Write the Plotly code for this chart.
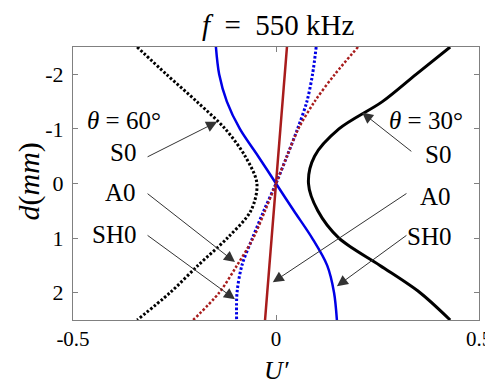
import plotly.graph_objects as go

# thickness coordinate d (mm), shared by all curves
d = [-2.5, -2, -1.5, -1, -0.5, 0, 0.5, 1, 1.5, 2, 2.5]

# U', theta = 30 deg
s0_30 = [0.429, 0.345, 0.262, 0.155, 0.095, 0.08, 0.103, 0.155, 0.256, 0.355, 0.429]
a0_30 = [0.027, 0.0216, 0.0162, 0.0108, 0.0054, 0.0, -0.0054, -0.0108, -0.0162, -0.0216, -0.027]
sh0_30 = [-0.148, -0.14, -0.121, -0.089, -0.044, 0.0, 0.044, 0.089, 0.126, 0.143, 0.15]

# U', theta = 60 deg
s0_60 = [-0.342, -0.27, -0.195, -0.125, -0.076, -0.047, -0.062, -0.12, -0.192, -0.261, -0.342]
a0_60 = [0.202, 0.145, 0.095, 0.055, 0.027, 0.0, -0.027, -0.056, -0.096, -0.14, -0.204]
sh0_60 = [0.099, 0.09, 0.076, 0.053, 0.027, 0.0, -0.03, -0.058, -0.084, -0.096, -0.097]

x_ticks = [-0.5, 0, 0.5]
x_ticktext = ['-0.5', '0', '0.5']
y_ticks = [-2, -1, 0, 1, 2]
y_ticktext = ['-2', '-1', '0', '1', '2']

BLUE = '#0000e6'
RED = '#a81c1c'
DOT = '2.5px,2px'
FONT = 'Liberation Serif'

fig = go.Figure()

curves = [
    (s0_30, 'black', 3, 'solid'),
    (sh0_30, BLUE, 2.5, 'solid'),
    (a0_30, RED, 2.5, 'solid'),
    (s0_60, 'black', 3, DOT),
    (sh0_60, BLUE, 3, DOT),
    (a0_60, RED, 2.5, DOT),
]
for u, col, w, dash in curves:
    fig.add_trace(go.Scatter(x=u, y=d, mode='lines',
                             line=dict(color=col, width=w, dash=dash, shape='spline', smoothing=0.9),
                             showlegend=False))

# arrows (head on curve, tail next to the label)
arrows = [
    (-0.145, -1.13, -0.32, -0.475),
    (-0.101, 1.44, -0.32, 0.165),
    (-0.101, 2.12, -0.32, 0.93),
    (0.212, -1.30, 0.337, -0.567),
    (-0.008, 1.81, 0.325, 0.165),
    (0.150, 1.88, 0.325, 0.93),
]
for hx, hy, tx, ty in arrows:
    fig.add_annotation(x=hx, y=hy, ax=tx, ay=ty, xref='x', yref='y', axref='x', ayref='y',
                       text='', showarrow=True, arrowhead=2, arrowsize=2.2, arrowwidth=1,
                       arrowcolor='#333333')

labels = [
    ('<i>θ</i> = 60°', -0.374, -1.16, 'center'),
    ('S0', -0.34, -0.57, 'right'),
    ('A0', -0.34, 0.165, 'right'),
    ('SH0', -0.34, 0.93, 'right'),
    ('<i>θ</i> = 30°', 0.369, -1.16, 'center'),
    ('S0', 0.436, -0.53, 'right'),
    ('A0', 0.436, 0.24, 'right'),
    ('SH0', 0.436, 0.97, 'right'),
]
for txt, x, y, anchor in labels:
    fig.add_annotation(x=x, y=y, xref='x', yref='y', text=txt, showarrow=False,
                       xanchor=anchor, yanchor='middle',
                       font=dict(family=FONT, size=25, color='black'))

# axis titles
fig.add_annotation(x=0.5, y=0, xref='paper', yref='paper', yshift=-50, text='<i>U′</i>',
                   showarrow=False, xanchor='center', yanchor='middle',
                   font=dict(family=FONT, size=26))
fig.add_annotation(x=0, y=0.5, xref='paper', yref='paper', xshift=-45, yshift=2,
                   text='<i>d</i>(<i>mm</i>)', textangle=-90, showarrow=False,
                   xanchor='center', yanchor='middle', font=dict(family=FONT, size=30))

# page body adds an 8px margin, so the figure is 8px smaller than the window
fig.update_layout(
    width=485, height=376,
    template='simple_white',
    margin=dict(l=65, r=14, t=39, b=64, autoexpand=False),
    font=dict(family=FONT, size=22, color='black'),
    title=dict(text='<i>f</i>&nbsp; =&nbsp; 550 kHz', x=0.557, xanchor='center', y=0.955, yanchor='middle',
               font=dict(family=FONT, size=29)),
    xaxis=dict(range=[-0.5, 0.5], tickvals=x_ticks, ticktext=x_ticktext, ticks='inside', ticklen=5,
               linecolor='#808080', tickcolor='#808080', mirror='ticks', showgrid=False,
               zeroline=False, automargin=False, ticklabeloverflow='allow',
               tickfont=dict(size=21)),
    yaxis=dict(range=[2.5, -2.5], tickvals=y_ticks, ticktext=y_ticktext, ticks='inside', ticklen=5,
               linecolor='#808080', tickcolor='#808080', mirror='ticks', showgrid=False,
               zeroline=False, automargin=False, ticklabelstandoff=4),
    plot_bgcolor='white', paper_bgcolor='white',
)

fig.write_html('out.html')
